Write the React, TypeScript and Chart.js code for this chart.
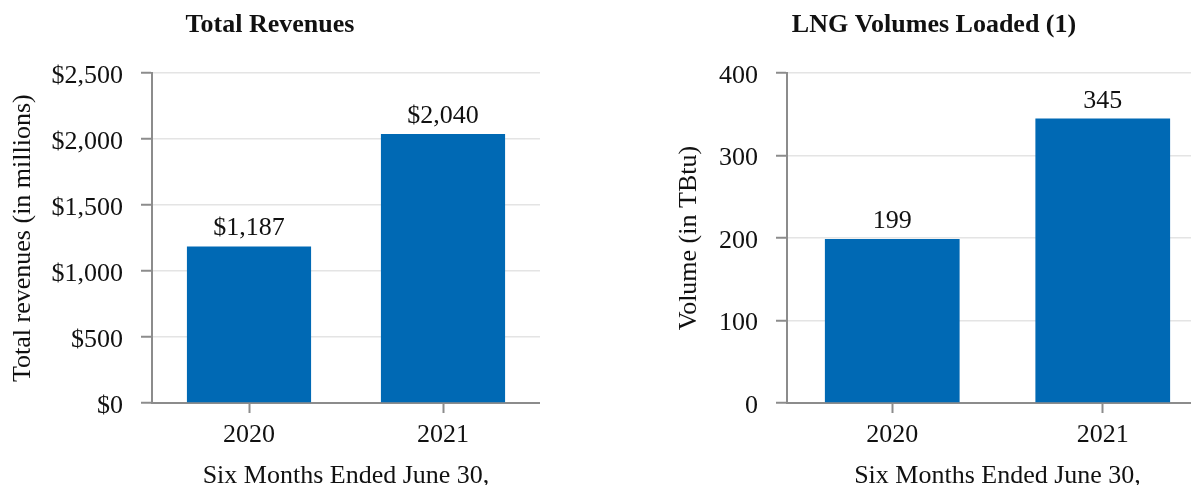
import React, { useEffect, useRef } from 'react';
import { Chart, registerables } from 'chart.js';

Chart.register(...registerables);

// ---- Data ----
const periods = ['2020', '2021'];
const revenues = [1187, 2040];
const volumes = [199, 345];
const revenueAxis = { min: 0, max: 2500, step: 500 };
const volumeAxis = { min: 0, max: 400, step: 100 };
const xAxisTitle = 'Six Months Ended June 30,';

// ---- Styles ----
const FONT = "'Liberation Serif', 'Times New Roman', serif";
const BLUE = '#0069B4';
const AXIS = '#8c8c8c';
const GRID = '#e4e4e4';
const TEXT = '#111111';

const fmtDollar = (v: number) => '$' + Number(v).toLocaleString('en-US');
const fmtPlain = (v: number) => String(v);

function buildChart(canvas: HTMLCanvasElement, p: any) {
  const labelsPlugin = {
    id: 'valueLabels',
    afterDatasetsDraw(chart: any) {
      const { ctx } = chart;
      const meta = chart.getDatasetMeta(0);
      const data = chart.data.datasets[0].data;
      ctx.save();
      ctx.font = `26px ${FONT}`;
      ctx.fillStyle = TEXT;
      ctx.textAlign = 'center';
      ctx.textBaseline = 'alphabetic';
      meta.data.forEach((el: any, i: number) => {
        ctx.fillText(p.fmt(data[i]), el.x, el.y - 11);
      });
      ctx.restore();
    },
  };

  return new Chart(canvas, {
    type: 'bar',
    data: {
      labels: periods,
      datasets: [
        {
          data: p.values,
          backgroundColor: BLUE,
          borderWidth: 0,
          barPercentage: 0.8,
          categoryPercentage: 0.8,
        },
      ],
    },
    options: {
      responsive: false,
      animation: false,
      devicePixelRatio: 1,
      layout: { padding: { left: 0, right: 0, top: 0, bottom: 0 } },
      plugins: {
        legend: { display: false },
        tooltip: { enabled: false },
        title: {
          display: true,
          text: p.title,
          color: TEXT,
          font: { family: FONT, size: 26, weight: 'bold' },
          padding: { top: 10, bottom: 32 },
        },
      },
      scales: {
        x: {
          grid: {
            display: true,
            offset: false,
            drawOnChartArea: false,
            tickLength: 10,
            tickColor: AXIS,
            tickWidth: 2,
          },
          border: { display: true, color: AXIS, width: 2 },
          ticks: { color: TEXT, font: { family: FONT, size: 26 }, padding: 7 },
          title: {
            display: true,
            text: xAxisTitle,
            color: TEXT,
            font: { family: FONT, size: 26 },
            padding: { top: 3, bottom: 0 },
          },
          afterFit: (s: any) => {
            s.height = p.xHeight;
          },
        },
        y: {
          min: p.axis.min,
          max: p.axis.max,
          ticks: {
            stepSize: p.axis.step,
            color: TEXT,
            font: { family: FONT, size: 26 },
            padding: 18,
            labelOffset: 3,
            callback: (v: any) => p.fmt(v),
          },
          grid: {
            color: (ctx: any) => (ctx.tick && ctx.tick.value === 0 ? AXIS : GRID),
            lineWidth: 1.5,
            tickColor: AXIS,
            tickLength: 11,
            tickWidth: 2,
          },
          border: { display: true, color: AXIS, width: 2 },
          title: {
            display: true,
            text: p.yTitle,
            color: TEXT,
            font: { family: FONT, size: 26 },
            padding: { top: p.yTitlePad, bottom: 0 },
          },
          afterFit: (s: any) => {
            s.width = p.yWidth;
          },
        },
      },
    },
    plugins: [labelsPlugin],
  } as any);
}

export default function App() {
  const leftRef = useRef<HTMLCanvasElement>(null);
  const rightRef = useRef<HTMLCanvasElement>(null);

  useEffect(() => {
    const a = buildChart(leftRef.current!, {
      values: revenues,
      axis: revenueAxis,
      fmt: fmtDollar,
      title: 'Total Revenues',
      yTitle: 'Total revenues (in millions)',
      yWidth: 152,
      yTitlePad: 8,
      xHeight: 89,
    });
    const b = buildChart(rightRef.current!, {
      values: volumes,
      axis: volumeAxis,
      fmt: fmtPlain,
      title: 'LNG Volumes Loaded (1)',
      yTitle: 'Volume (in TBtu)',
      yWidth: 127,
      yTitlePad: 14,
      xHeight: 89,
    });
    return () => {
      a.destroy();
      b.destroy();
    };
  }, []);

  return (
    <div
      style={{
        position: 'fixed',
        left: 0,
        top: 0,
        width: 1191,
        height: 485,
        overflow: 'hidden',
        background: '#ffffff',
      }}
    >
      <canvas ref={leftRef} width={540} height={492} style={{ position: 'absolute', left: 0, top: 0 }} />
      <canvas ref={rightRef} width={548} height={492} style={{ position: 'absolute', left: 660, top: 0 }} />
    </div>
  );
}
